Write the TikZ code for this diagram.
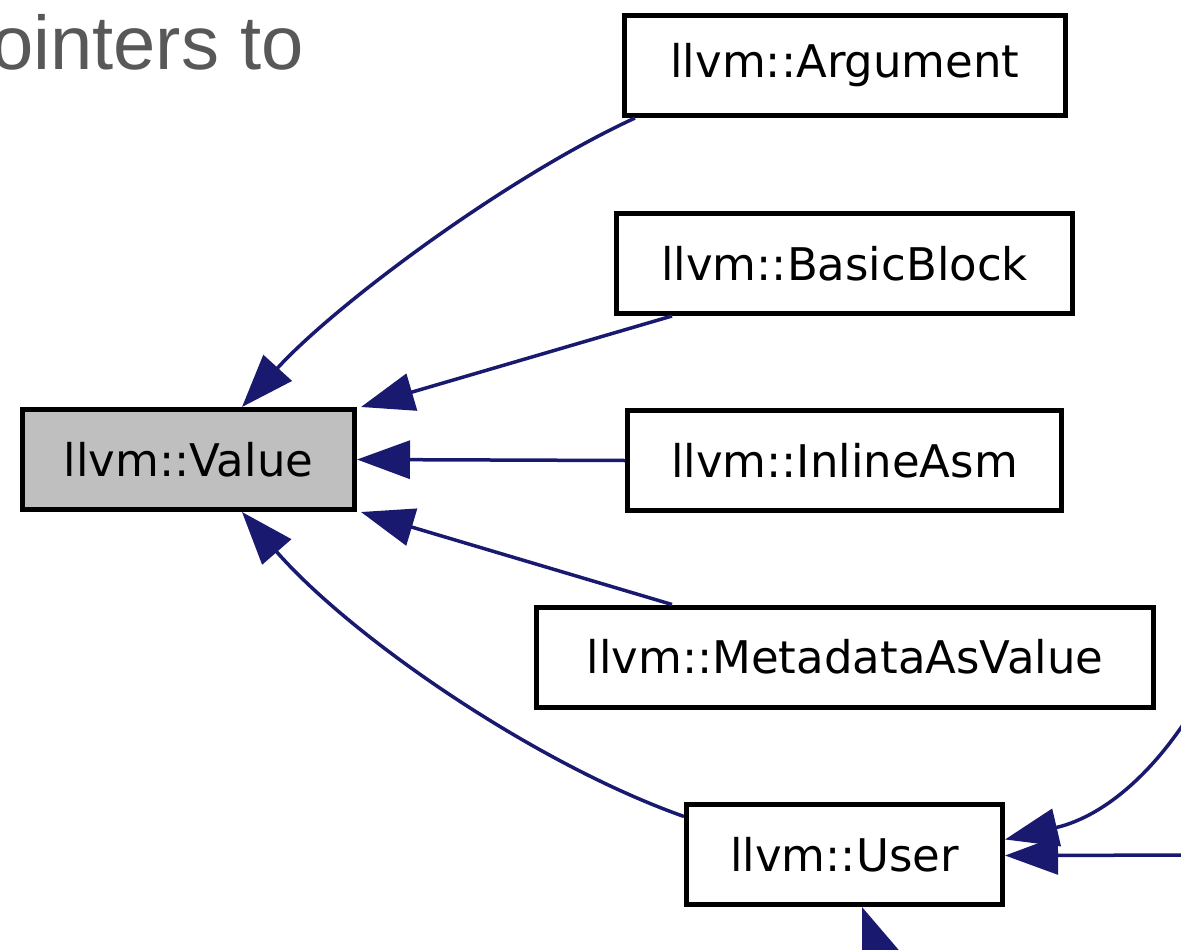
\documentclass[tikz,border=0pt]{standalone}
\usepackage{fontspec}
\setmainfont{DejaVu Sans}
\newfontfamily\captionfont{Liberation Sans}
\usetikzlibrary{arrows.meta,calc}
\definecolor{edgeblue}{HTML}{191970}
\definecolor{captiongray}{HTML}{585858}
\definecolor{basefill}{HTML}{BFBFBF}
\tikzset{
  cls/.style={draw=black, line width=5pt, fill=white, rectangle, inner sep=0pt,
    minimum height=100pt, font=\fontsize{45pt}{50pt}\selectfont},
  edge/.style={draw=edgeblue, line width=3.5pt,
    -{Triangle[length=53pt,width=38pt]}},
}
\begin{document}
\begin{tikzpicture}[x=1pt,y=-1pt]
\useasboundingbox (0,0) rectangle (1181,950);
\clip (0,0) rectangle (1181,950);
\fill[white] (0,0) rectangle (1181,950);

\node[anchor=base east, text=captiongray, inner sep=0pt,
  font=\captionfont\fontsize{76pt}{82pt}\selectfont] (cap) at (304,70) {pointers to};

\node[cls, minimum width=441pt] (arg) at (845,65.5) {llvm::Argument};
\node[cls, minimum width=456pt] (bb)  at (844.5,263.5) {llvm::BasicBlock};
\node[cls, minimum width=434pt] (ia)  at (844.5,460.5) {llvm::InlineAsm};
\node[cls, minimum width=617pt] (mav) at (845,657) {llvm::MetadataAsValue};
\node[cls, minimum width=316pt] (user) at (844.5,854.5) {llvm::User};
\node[cls, minimum width=332pt, fill=basefill] (val) at (188.5,459.5) {llvm::Value};

\coordinate (offA) at (1215,670);
\coordinate (offB) at (1215,855);
\coordinate (offC) at (915,1050);

\draw[edge] ($(arg.south west)+(13,0)$) .. controls (505,178) and (335,305) .. ($(val.north west)+(222,0)$);
\draw[edge] ($(bb.south west)+(58,0)$) -- ($(val.north east)+(4,0)$);
\draw[edge] (ia.west) -- (val.east);
\draw[edge] ($(mav.north west)+(138,0)$) -- ($(val.south east)+(4,0)$);
\draw[edge] ($(user.west)+(0,-38)$) .. controls (533,763) and (350,636) .. ($(val.south west)+(222,0)$);

\draw[edge] (offA) .. controls (1170,760) and (1110,815) .. ($(user.east)+(0,-15)$);
\draw[edge] (offB) -- ($(user.east)+(0,1)$);
\draw[edge] (offC) -- ($(user.south west)+(178,0)$);
\end{tikzpicture}
\end{document}
